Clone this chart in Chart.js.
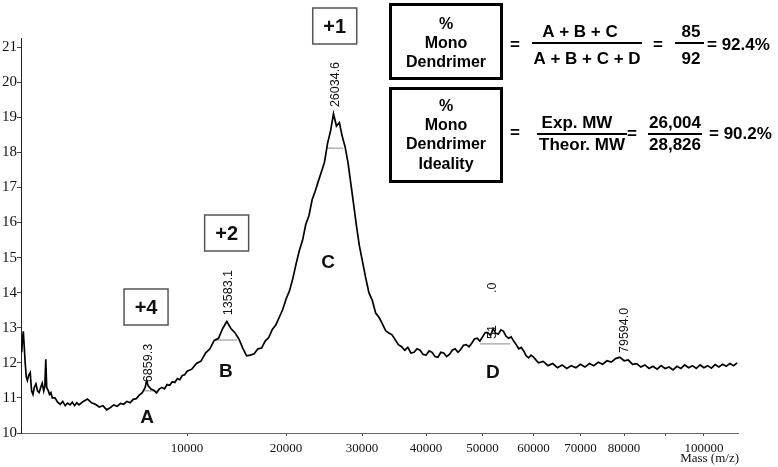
<!DOCTYPE html>
<html><head><meta charset="utf-8">
<script src="https://cdn.jsdelivr.net/npm/chart.js@4.4.0/dist/chart.umd.min.js"></script>
<style>html,body{margin:0;padding:0;background:#fff;}#wrap{width:778px;height:467px;position:relative;}</style>
</head><body><div id="wrap"><canvas id="c" width="778" height="467"></canvas></div>
<script>
// ---- data (mass m/z, relative intensity) ----
const massValues = [
 950,970,990,1010,1040,1070,1100,1140,1180,1220,1260,1300,1350,1400,1450,1500,1550,1600,1640,1670,1700,1730,1760,1800,1850,1900,2000,2100,2200,2300,2400,2500,2600,2700,2800,2900,3000,
 3200,3400,3600,3800,4000,4200,4400,4600,4800,5000,5200,5400,5600,5800,6000,6200,6400,6600,6800,6900,7000,7200,7400,7600,7800,8000,8200,8400,8600,8800,9000,9200,9400,9600,9800,10000,
 10400,10800,11200,11600,12000,12400,12800,13200,13600,14000,14400,14800,15200,15600,16000,16400,16800,17200,17600,18000,18400,18800,19200,19600,20000,20400,20800,21200,21600,22000,22400,22800,23200,23600,24000,24400,24800,25200,25600,26000,26400,26800,27200,27600,28000,28400,28800,29200,29600,30000,30500,
 31000,31500,32000,32500,33000,33500,34000,34500,35000,35500,36000,36500,37000,37500,38000,38500,39000,39500,40000,40500,41000,41500,42000,42500,43000,43500,44000,44500,45000,45500,46000,46500,47000,47500,48000,48500,49000,49500,50000,50500,51000,51500,52000,52500,53000,53500,54000,54500,55000,55500,56000,56500,57000,57500,58000,58500,59000,59500,60000,
 61000,62000,63000,64000,65000,66000,67000,68000,69000,70000,71000,72000,73000,74000,75000,76000,77000,78000,79000,80000,81000,82000,83000,84000,85000,86000,87000,88000,89000,90000,91000,92000,93000,94000,95000,96000,97000,98000,99000,100000,101000,102000,103000,104000,105000,106000,107000,108000,109000
];
const intensityValues = [
 12.3,12.7,12.9,12.55,12.0,11.6,11.5,11.65,11.72,11.2,11.1,11.3,11.4,11.2,11.15,11.3,11.42,11.2,11.35,12.1,11.3,11.25,11.2,11.1,11.15,11.0,11.0,10.88,10.82,10.9,10.78,10.85,10.8,10.88,10.78,10.86,10.8,
 10.9,10.97,10.86,10.82,10.74,10.78,10.66,10.72,10.8,10.76,10.84,10.82,10.9,10.86,10.96,10.98,11.08,11.15,11.3,11.5,11.35,11.25,11.22,11.14,11.25,11.3,11.26,11.38,11.36,11.46,11.44,11.55,11.52,11.64,11.66,11.76,
 11.82,11.98,12.05,12.28,12.4,12.64,12.7,12.98,13.18,12.98,12.86,12.68,12.42,12.2,12.22,12.26,12.4,12.42,12.62,12.72,12.95,13.08,13.3,13.52,13.82,14.05,14.4,14.82,15.2,15.5,15.95,16.2,16.65,16.9,17.18,17.45,17.72,18.25,18.6,19.1,18.75,18.85,18.45,18.15,17.7,17.1,16.5,15.9,15.35,14.95,14.45,
 14.0,13.78,13.42,13.3,13.12,12.92,12.85,12.8,12.66,12.52,12.46,12.36,12.44,12.28,12.3,12.4,12.36,12.24,12.22,12.34,12.3,12.18,12.16,12.3,12.28,12.18,12.24,12.36,12.4,12.3,12.38,12.5,12.52,12.46,12.56,12.68,12.7,12.62,12.74,12.86,12.86,12.78,12.98,12.84,12.82,12.94,12.9,12.76,12.7,12.74,12.62,12.52,12.4,12.44,12.34,12.2,12.14,12.22,12.16,
 12.0,12.04,11.92,11.98,11.86,11.94,11.84,11.92,11.86,11.96,11.88,11.98,11.92,12.02,11.96,12.06,12.02,12.12,12.16,12.06,12.08,11.96,11.98,11.88,11.94,11.84,11.9,11.82,11.92,11.84,11.88,11.8,11.9,11.84,11.94,11.86,11.92,11.84,11.94,11.86,11.92,11.85,11.95,11.88,11.96,11.9,11.98,11.92,12.0
];
const xTickValues = [10000,20000,30000,40000,50000,60000,70000,80000,90000,100000];
const xTickLabels = ['10000','20000','30000','40000','50000','60000','70000','80000','','100000'];
const yTickValues = [10,11,12,13,14,15,16,17,18,19,20,21];
const peakMasses = [6859.3, 13583.1, 26034.6, 51500, 79594.0];
const peakLabels = ['6859.3','13583.1','26034.6','51|.0','79594.0'];
const peakLabelBase = [11.45, 13.36, 19.29, 12.68, 12.28];
const chargeLabels = ['+4','+2','+1'];
const chargePeakMasses = [6859.3, 13583.1, 26034.6];
const peakLetters = ['A','B','C','D'];
const letterMasses = [6934, 13500, 25270, 51975];
const letterLevels = [10.43, 11.74, 14.84, 11.71];
const baseStart = [6659, 12477, 25138, 49520];
const baseEnd = [7648, 14621, 27305, 55270];
const baseLevel = [11.2, 12.65, 18.12, 12.54];

const spectrum = massValues.map((m,i)=>({x:Math.sqrt(m), y:intensityValues[i]}));
const baseSets = baseStart.map((s,i)=>({
  data:[{x:Math.sqrt(s),y:baseLevel[i]},{x:Math.sqrt(baseEnd[i]),y:baseLevel[i]}],
  borderColor:'#8a8a8a', borderWidth:1, pointRadius:0
}));

const annot = {
  id:'annot',
  afterDatasetsDraw(chart){
    const ctx = chart.ctx, xs = chart.scales.x, ys = chart.scales.y;
    const px = m => xs.getPixelForValue(Math.sqrt(m));
    const py = v => ys.getPixelForValue(v);
    ctx.save();
    ctx.fillStyle = '#111';
    ctx.font = '12.5px "Liberation Sans", Arial, sans-serif';
    peakMasses.forEach((m,i)=>{
      ctx.save();
      ctx.translate(px(m)+2, py(peakLabelBase[i]));
      ctx.rotate(-Math.PI/2);
      ctx.textAlign = 'left'; ctx.textBaseline = 'middle';
      const parts = peakLabels[i].split('|');
      ctx.fillText(parts[0], 0, 0);
      if (parts[1]) ctx.fillText(parts[1], 46, 0);
      ctx.restore();
    });
    ctx.font = 'bold 19px "Liberation Sans", Arial, sans-serif';
    ctx.textAlign = 'center'; ctx.textBaseline = 'middle';
    peakLetters.forEach((t,i)=>{ ctx.fillText(t, px(letterMasses[i]), py(letterLevels[i])); });
    const boxTops = [289, 215, 8];
    chargePeakMasses.forEach((m,i)=>{
      const cx = px(m) + (i===2 ? 1 : 0);
      ctx.strokeStyle = '#555'; ctx.lineWidth = 1.5;
      ctx.strokeRect(cx-22, boxTops[i], 44, 36);
      ctx.fillStyle = '#111';
      ctx.font = 'bold 20px "Liberation Sans", Arial, sans-serif';
      ctx.fillText(chargeLabels[i], cx, boxTops[i]+19);
    });
    ctx.strokeStyle = '#000'; ctx.lineWidth = 3;
    ctx.strokeRect(390.5, 4.5, 111, 74);
    ctx.strokeRect(390.5, 88.5, 111, 93);
    ctx.fillStyle = '#000';
    ctx.font = 'bold 16px "Liberation Sans", Arial, sans-serif';
    ctx.textAlign = 'center';
    [['%',25],['Mono',44],['Dendrimer',63]].forEach(a=>ctx.fillText(a[0],446,a[1]));
    [['%',107],['Mono',126],['Dendrimer',145],['Ideality',165]].forEach(a=>ctx.fillText(a[0],446,a[1]));
    ctx.font = 'bold 17px "Liberation Sans", Arial, sans-serif';
    ctx.fillText('=', 515, 45);
    ctx.fillText('A + B + C', 580, 32);
    ctx.fillText('A + B + C + D', 587, 59);
    ctx.fillText('=', 658, 45);
    ctx.fillText('85', 691, 32);
    ctx.fillText('92', 691, 59);
    ctx.textAlign = 'left';
    ctx.fillText('= 92.4%', 707, 45);
    ctx.textAlign = 'center';
    ctx.fillText('=', 515, 133);
    ctx.fillText('Exp. MW', 577, 123);
    ctx.fillText('Theor. MW', 582, 145);
    ctx.fillText('=', 632, 134);
    ctx.fillText('26,004', 675, 123);
    ctx.fillText('28,826', 675, 145);
    ctx.textAlign = 'left';
    ctx.fillText('= 90.2%', 709, 134);
    ctx.lineWidth = 2;
    ctx.beginPath();
    ctx.moveTo(532,43); ctx.lineTo(642,43);
    ctx.moveTo(675,43); ctx.lineTo(704,43);
    ctx.moveTo(537,134); ctx.lineTo(627,134);
    ctx.moveTo(648,134); ctx.lineTo(702,134);
    ctx.stroke();
    ctx.fillStyle = '#111';
    ctx.font = '13px "Liberation Serif", "Times New Roman", serif';
    ctx.textAlign = 'right'; ctx.textBaseline = 'middle';
    ctx.fillText('Mass (m/z)', 739, 459);
    ctx.restore();
  }
};

new Chart(document.getElementById('c'), {
  type:'line',
  data:{ datasets:[{data:spectrum, borderColor:'#000', borderWidth:1.7, pointRadius:0, tension:0}, ...baseSets] },
  options:{
    responsive:false, animation:false,
    layout:{padding:{top:38, right:40, left:0, bottom:0}},
    plugins:{legend:{display:false}, tooltip:{enabled:false}},
    scales:{
      x:{type:'linear', min:30.5, max:330.5,
        afterBuildTicks(s){ s.ticks = xTickValues.map(v=>({value:Math.sqrt(v)})); },
        afterFit(s){ s.height = 34; },
        grid:{drawOnChartArea:false, drawTicks:true, tickLength:3, color:'#444'},
        border:{display:true, color:'#666', width:1},
        ticks:{autoSkip:false, maxRotation:0, padding:5, color:'#111',
          font:{family:'"Liberation Serif", "Times New Roman", serif', size:13},
          callback:(v,i)=>xTickLabels[i]}
      },
      y:{type:'linear', min:10, max:21.26,
        afterBuildTicks(s){ s.ticks = yTickValues.map(v=>({value:v})); },
        afterFit(s){ s.width = 21; },
        grid:{drawOnChartArea:false, drawTicks:true, tickLength:4, color:'#444'},
        border:{display:true, color:'#222', width:1},
        ticks:{padding:0, color:'#111',
          font:{family:'"Liberation Serif", "Times New Roman", serif', size:15},
          callback:(v)=>String(v)}
      }
    }
  },
  plugins:[annot]
});
</script></body></html>
